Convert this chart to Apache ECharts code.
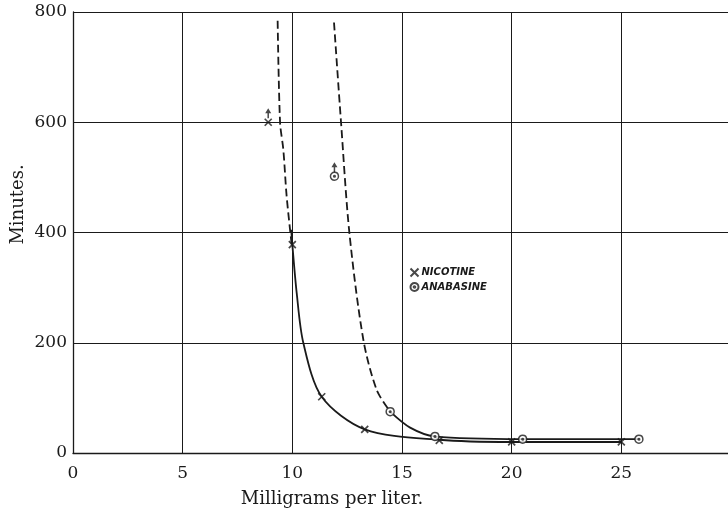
<!DOCTYPE html>
<html>
<head>
<meta charset="utf-8">
<script src="https://cdn.jsdelivr.net/npm/echarts@6/dist/echarts.min.js"></script>
<style>
  html, body { margin: 0; padding: 0; background: #fff; }
  #chart { width: 728px; height: 509px; }
</style>
</head>
<body>
<div id="chart"></div>
<script>
// observed points [mg per liter, minutes]
var nicotinePts = [[8.9, 600], [10, 378], [11.34, 102], [13.3, 43], [16.7, 23], [20, 20], [25, 20]];
var anabasinePts = [[11.92, 502], [14.46, 75], [16.5, 30], [20.5, 25], [25.8, 25]];
// points that only give a lower bound (drawn with an up arrow)
var lowerBoundPts = [[8.9, 600], [11.92, 502]];
// curves
var nicotineSolid = [[9.95, 405], [10, 378], [10.2, 290], [10.5, 200], [11.34, 102], [13.3, 43], [16.7, 24], [20, 20], [25, 20]];
var nicotineDash = [[9.33, 784], [9.44, 600], [9.59, 550], [9.74, 466], [9.97, 378]];
var anabasineSolid = [[14.46, 75], [15.37, 46], [16.5, 30], [20.5, 25], [25.8, 25]];
var anabasineDash = [[11.9, 781], [12.22, 600], [12.6, 400], [13.24, 205], [13.85, 114], [14.46, 75]];
var xTicks = [0, 5, 10, 15, 20, 25];
var yTicks = [0, 200, 400, 600, 800];

var dom = document.getElementById("chart");
var myChart = echarts.init(dom);

var serif = 'DejaVu Serif';
var ink = '#1a1a1a';
var crossPath = 'path://M0,0L10,10M10,0L0,10';
var ringPath = 'path://M10,5A5,5,0,1,1,9.99,4.7ZM6,5A1,1,0,1,1,5.99,4.9Z';

var curve = function (data, dashed) {
    return {
        type: 'line',
        data: data,
        smooth: 0.3,
        symbol: 'none',
        silent: true,
        lineStyle: { color: ink, width: 1.8, type: dashed ? [8, 4] : 'solid' },
        z: 2
    };
};

option = {
    animation: false,
    backgroundColor: '#fff',
    grid: { left: 73, top: 12, width: 658, bottom: 56, containLabel: false, outerBoundsMode: 'none' },
    legend: {
        data: ['NICOTINE', 'ANABASINE'],
        orient: 'vertical',
        left: 403,
        top: 261,
        itemWidth: 8,
        itemHeight: 8,
        itemGap: 3,
        textStyle: { fontFamily: 'DejaVu Sans', fontStyle: 'italic', fontWeight: 'bold', fontSize: 10, color: ink, padding: [0, 0, 0, -2] }
    },
    xAxis: {
        type: 'value',
        min: 0,
        max: 30,
        interval: 5,
        name: 'Milligrams per liter.',
        nameLocation: 'middle',
        nameGap: 37,
        nameTextStyle: { fontFamily: serif, fontSize: 18, color: ink, padding: [0, 140, 0, 0] },
        axisLine: { show: true, lineStyle: { color: ink, width: 1.3 } },
        axisTick: { show: false },
        axisLabel: {
            fontFamily: serif, fontSize: 17, color: ink, margin: 12,
            formatter: function (v) { return xTicks.indexOf(v) >= 0 ? String(v) : ''; }
        },
        splitLine: { show: true, lineStyle: { color: ink, width: 1 } }
    },
    yAxis: {
        type: 'value',
        min: 0,
        max: 800,
        interval: 200,
        name: 'Minutes.',
        nameLocation: 'middle',
        nameGap: 46,
        nameMoveOverlap: false,
        nameTextStyle: { fontFamily: serif, fontSize: 18, color: ink, padding: [0, 0, 0, 56] },
        axisLine: { show: true, lineStyle: { color: ink, width: 1.3 } },
        axisTick: { show: false },
        axisLabel: {
            fontFamily: serif, fontSize: 17, color: ink, margin: 6,
            formatter: function (v) { return yTicks.indexOf(v) >= 0 ? String(v) : ''; }
        },
        splitLine: { show: true, lineStyle: { color: ink, width: 1.2 } }
    },
    series: [
        curve(nicotineDash, true),
        curve(nicotineSolid, false),
        curve(anabasineDash, true),
        curve(anabasineSolid, false),
        {
            name: 'NICOTINE',
            type: 'scatter',
            data: nicotinePts,
            symbol: crossPath,
            symbolSize: 7,
            itemStyle: { color: 'none', borderColor: ink, borderWidth: 1.7 },
            z: 4
        },
        {
            name: 'ANABASINE',
            type: 'scatter',
            data: anabasinePts,
            symbol: ringPath,
            symbolSize: 8,
            itemStyle: { color: '#fff', borderColor: ink, borderWidth: 1.5 },
            z: 4
        },
        {
            name: 'lower bound',
            type: 'scatter',
            data: lowerBoundPts,
            symbol: 'path://M4,0L8,6L5,6L5,12L3,12L3,6L0,6Z',
            symbolSize: [6, 10],
            symbolOffset: [0, -9],
            itemStyle: { color: ink },
            silent: true,
            z: 4
        }
    ]
};

if (option && typeof option === "object") {
    myChart.setOption(option, true);
}
window.onresize = myChart.resize;
</script>
</body>
</html>
